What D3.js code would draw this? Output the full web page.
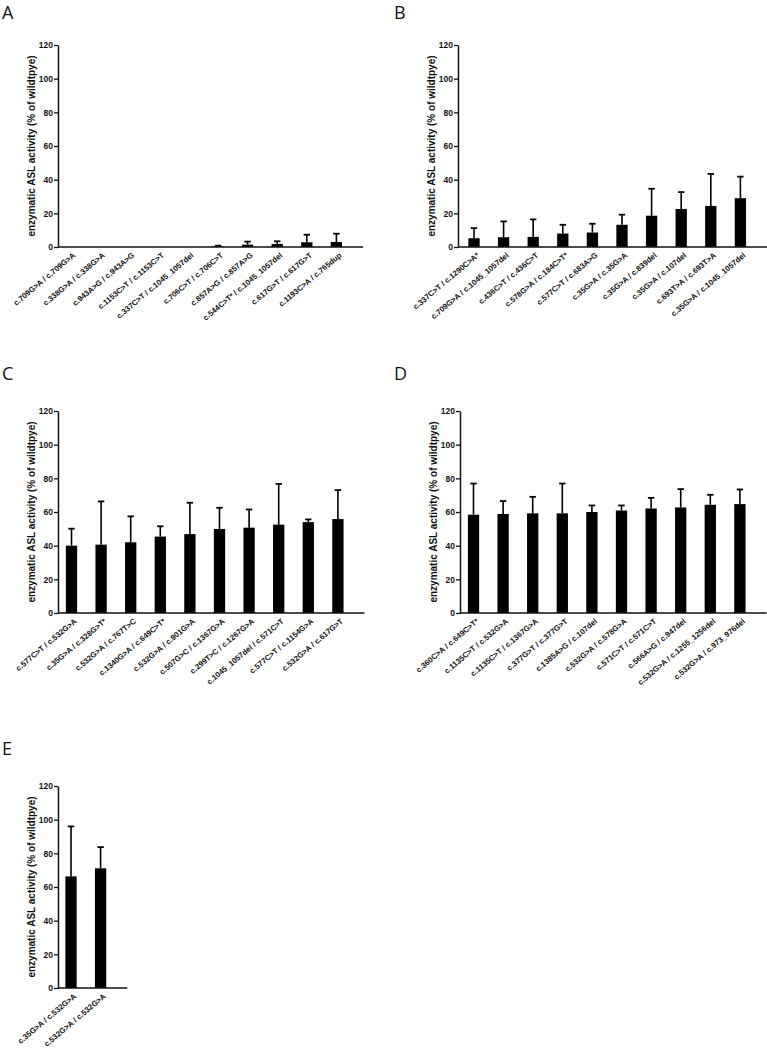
<!DOCTYPE html>
<html>
<head>
<meta charset="utf-8">
<script src="https://cdn.jsdelivr.net/npm/d3@7"></script>
<style>
  body { margin: 0; background: #fff; }
  .tick text { font-family: Arial, "Liberation Sans", sans-serif; }
</style>
</head>
<body>
<div id="chart"></div>
<script>
// panel data: genotype labels, mean activity, SD (upper error bar only)
var labelsA = ["c.709G>A / c.709G>A", "c.338G>A / c.338G>A", "c.943A>G / c.943A>G", "c.1153C>T / c.1153C>T",
  "c.337C>T / c.1045_1057del", "c.706C>T / c.706C>T", "c.857A>G / c.857A>G", "c.544C>T* / c.1045_1057del",
  "c.617G>T / c.617G>T", "c.1193C>A / c.765dup"];
var meanA = [0, 0, 0, 0, 0, 0.5, 1.4, 1.8, 2.8, 3.0];
var sdA   = [0, 0, 0, 0, 0, 0.3, 1.8, 1.6, 4.5, 4.9];

var labelsB = ["c.337C>T / c.1290C>A*", "c.709G>A / c.1045_1057del", "c.436C>T / c.436C>T", "c.578G>A / c.184C>T*",
  "c.577C>T / c.683A>G", "c.35G>A / c.35G>A", "c.35G>A / c.839del", "c.35G>A / c.107del",
  "c.693T>A / c.693T>A", "c.35G>A / c.1045_1057del"];
var meanB = [5.2, 5.8, 6.0, 8.0, 8.6, 13.2, 18.6, 22.6, 24.4, 29.0];
var sdB   = [6.0, 9.4, 10.4, 5.2, 5.2, 6.0, 16.0, 10.0, 19.0, 12.8];

var labelsC = ["c.577C>T / c.532G>A", "c.35G>A / c.328G>T*", "c.532G>A / c.767T>C", "c.1340G>A / c.649C>T*",
  "c.532G>A / c.901G>A", "c.507G>C / c.1367G>A", "c.299T>C / c.1267G>A", "c.1045_1057del / c.571C>T",
  "c.577C>T / c.1154G>A", "c.532G>A / c.617G>T"];
var meanC = [40.0, 40.6, 42.0, 45.4, 46.9, 49.9, 50.7, 52.5, 54.0, 55.8];
var sdC   = [10.1, 25.7, 15.4, 6.1, 18.6, 12.6, 10.8, 24.2, 1.6, 17.2];

var labelsD = ["c.360C>A / c.649C>T*", "c.1135C>T / c.532G>A", "c.1135C>T / c.1367G>A", "c.377G>T / c.377G>T",
  "c.1385A>G / c.107del", "c.532G>A / c.578G>A", "c.571C>T / c.571C>T", "c.566A>G / c.947del",
  "c.532G>A / c.1255_1256del", "c.532G>A / c.973_976del"];
var meanD = [58.4, 58.8, 59.2, 59.2, 60.0, 60.9, 62.1, 62.7, 64.3, 64.7];
var sdD   = [18.5, 7.7, 9.8, 17.7, 3.9, 3.0, 6.3, 10.9, 5.9, 8.7];

var labelsE = ["c.35G>A / c.532G>A", "c.532G>A / c.532G>A"];
var meanE = [66.3, 71.1];
var sdE   = [29.7, 12.6];

var yTicks = [0, 20, 40, 60, 80, 100, 120];
var yTitle = "enzymatic ASL activity (% of wildtpye)";

// layout of each panel (axis origin, first bar inset)
var panels = [
  {name: "A", labels: labelsA, mean: meanA, sd: sdA, x: 58,  y: 45,  inset: 12,   lx: 2,   ly: 19},
  {name: "B", labels: labelsB, mean: meanB, sd: sdB, x: 458, y: 45,  inset: 16,   lx: 394, ly: 19},
  {name: "C", labels: labelsC, mean: meanC, sd: sdC, x: 58,  y: 411, inset: 13.5, lx: 2,   ly: 380},
  {name: "D", labels: labelsD, mean: meanD, sd: sdD, x: 460, y: 411, inset: 13.5, lx: 394, ly: 380},
  {name: "E", labels: labelsE, mean: meanE, sd: sdE, x: 58,  y: 786, inset: 13,   lx: 2,   ly: 755}
];

var width = 767, height = 1050;
var plotH = 202;
var step = 29.6, barW = 11.3;
var pad = 1 - barW / step;

var svg = d3.select("#chart").append("svg")
    .attr("width", width)
    .attr("height", height);

var font = "Arial, 'Liberation Sans', sans-serif";

panels.forEach(function(p) {
  var n = p.labels.length;
  var start = p.inset - barW / 2;
  var end = start + step * (n - pad);

  var x = d3.scaleBand()
      .domain(p.labels)
      .range([start, end])
      .paddingInner(pad)
      .paddingOuter(0);
  var y = d3.scaleLinear().domain([0, 120]).range([plotH, 0]);

  // panel letter
  svg.append("text")
      .attr("x", p.lx)
      .attr("y", p.ly)
      .attr("font-family", "'Open Sans', 'DejaVu Sans', sans-serif")
      .attr("font-size", "18px")
      .attr("fill", "#111")
      .text(p.name);

  var g = svg.append("g")
      .attr("transform", "translate(" + p.x + "," + p.y + ")");

  var data = p.labels.map(function(l, i) { return {label: l, mean: p.mean[i], sd: p.sd[i]}; });

  // bars
  g.selectAll(".bar")
      .data(data)
      .enter().append("rect")
      .attr("class", "bar")
      .attr("x", function(d) { return x(d.label); })
      .attr("width", x.bandwidth())
      .attr("y", function(d) { return y(d.mean); })
      .attr("height", function(d) { return plotH - y(d.mean); })
      .attr("fill", "#000");

  // error bars (upper only)
  var err = data.filter(function(d) { return d.mean > 0; });
  g.selectAll(".err")
      .data(err)
      .enter().append("line")
      .attr("x1", function(d) { return x(d.label) + x.bandwidth() / 2; })
      .attr("x2", function(d) { return x(d.label) + x.bandwidth() / 2; })
      .attr("y1", function(d) { return y(d.mean); })
      .attr("y2", function(d) { return y(d.mean + d.sd); })
      .attr("stroke", "#000")
      .attr("stroke-width", 1.6);
  g.selectAll(".cap")
      .data(err)
      .enter().append("line")
      .attr("x1", function(d) { return x(d.label) + x.bandwidth() / 2 - 3.2; })
      .attr("x2", function(d) { return x(d.label) + x.bandwidth() / 2 + 3.2; })
      .attr("y1", function(d) { return y(d.mean + d.sd); })
      .attr("y2", function(d) { return y(d.mean + d.sd); })
      .attr("stroke", "#000")
      .attr("stroke-width", 1.8);

  // y axis
  var yAxis = g.append("g")
      .call(d3.axisLeft(y).tickValues(yTicks).tickSize(4).tickPadding(1).tickSizeOuter(0));
  yAxis.select(".domain").attr("stroke", "#111").attr("stroke-width", 1.5);
  yAxis.selectAll(".tick line").attr("stroke", "#111").attr("stroke-width", 1.3);
  yAxis.selectAll(".tick text")
      .attr("font-size", "8.5px")
      .attr("font-weight", "bold")
      .attr("fill", "#111");

  // x axis
  var xAxis = g.append("g")
      .attr("transform", "translate(0," + plotH + ")")
      .call(d3.axisBottom(x).tickSize(0).tickPadding(0));
  xAxis.select(".domain").remove();
  xAxis.append("line")
      .attr("x1", 0)
      .attr("x2", end + 21)
      .attr("stroke", "#111")
      .attr("stroke-width", 1.5);
  xAxis.selectAll(".tick text")
      .attr("font-size", "7.8px")
      .attr("font-weight", "bold")
      .attr("fill", "#111")
      .attr("text-anchor", "end")
      .attr("transform", "translate(4,7) rotate(-40)")
      .attr("dy", "0.35em")
      .attr("y", 0);

  // y label
  g.append("text")
      .attr("transform", "rotate(-90)")
      .attr("x", -plotH / 2)
      .attr("y", -22.6)
      .style("text-anchor", "middle")
      .attr("font-family", font)
      .attr("font-size", "10px")
      .attr("font-weight", "bold")
      .attr("fill", "#111")
      .text(yTitle);
});
</script>
</body>
</html>
